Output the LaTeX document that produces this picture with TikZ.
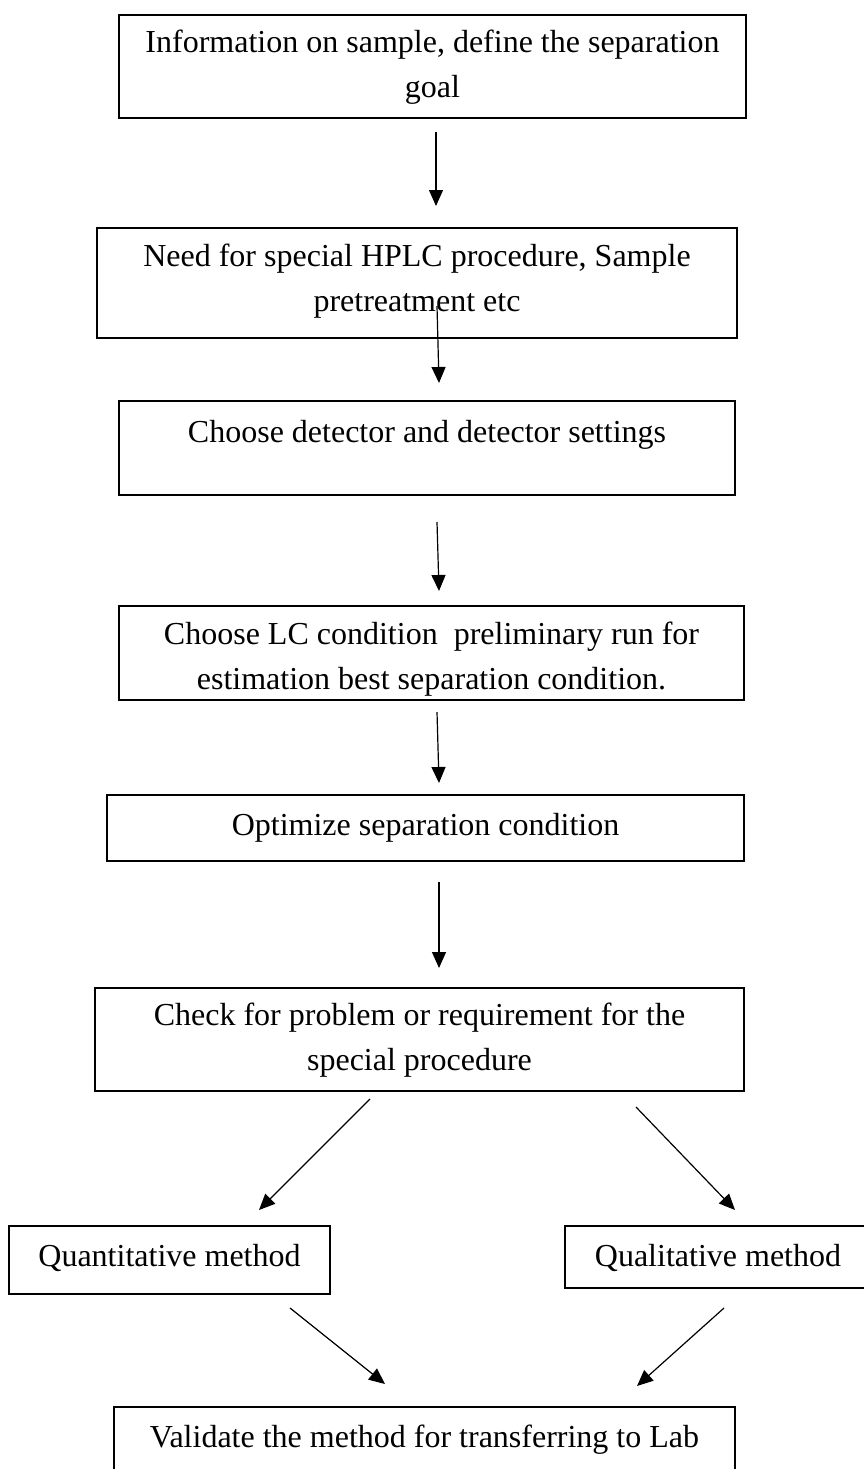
\documentclass[tikz,border=0pt]{standalone}
\usepackage{fontspec}
\setmainfont{Liberation Serif}
\usetikzlibrary{arrows.meta,calc}
\begin{document}
\begin{tikzpicture}[x=1pt,y=-1pt,
  box/.style={draw=black,line width=1.3pt,inner sep=0pt,outer sep=0pt},
  txt/.style={align=center,inner sep=0pt,anchor=base,font={\fontsize{32}{45}\selectfont}},
  arr/.style={line width=1.2pt,-{Triangle[length=16pt,width=14pt]}}]
\fill[white] (0,0) rectangle (863,1469);
\useasboundingbox (0,0) rectangle (863,1469);
% boxes
\node[box,minimum width=627pt,minimum height=103pt] (b1) at (432.5,66.5) {};
\node[box,minimum width=640pt,minimum height=110pt] (b2) at (417,283) {};
\node[box,minimum width=616pt,minimum height=94pt] (b3) at (427,448) {};
\node[box,minimum width=625pt,minimum height=94pt] (b4) at (431.5,653) {};
\node[box,minimum width=637pt,minimum height=66pt] (b5) at (425.5,828) {};
\node[box,minimum width=649pt,minimum height=103pt] (b6) at (419.5,1039.5) {};
\node[box,minimum width=321pt,minimum height=68pt] (b7) at (169.5,1260) {};
\node[box,minimum width=306pt,minimum height=62pt] (b8) at (718,1257) {};
\node[box,minimum width=621pt,minimum height=73pt] (b9) at (424.5,1443.5) {};
% texts (base anchor = baseline of last line)
\node[txt] (t1) at (432.5,98) {Information on sample, define the separation\\goal};
\node[txt] (t2) at (417,311) {Need for special HPLC procedure, Sample\\pretreatment etc};
\node[txt] (t3) at (427,442) {Choose detector and detector settings};
\node[txt] (t4) at (431.5,689) {Choose LC condition\ \ preliminary run for\\estimation best separation condition.};
\node[txt] (t5) at (425.5,835) {Optimize separation condition};
\node[txt] (t6) at (419.5,1070) {Check for problem or requirement for the\\special procedure};
\node[txt] (t7) at (169.5,1266) {Quantitative method};
\node[txt] (t8) at (718,1266) {Qualitative method};
\node[txt] (t9) at (424.5,1447) {Validate the method for transferring to Lab};
% arrows
\draw[arr] ($(b1.south)+(3.5,14)$) -- ($(b2.north)+(19,-22)$);
\draw[arr] ($(b2.south)+(20,-32)$) -- ($(b3.north)+(12,-18)$);
\draw[arr] ($(b3.south)+(10,27)$) -- ($(b4.north)+(7.5,-15)$);
\draw[arr] ($(b4.south)+(5.5,12)$) -- ($(b5.north)+(13.5,-12)$);
\draw[arr] ($(b5.south)+(13.5,21)$) -- ($(b6.north)+(19.5,-20)$);
\draw[arr] ($(b6.south)+(-49.5,8)$) -- ($(b7.north)+(89.5,-16)$);
\draw[arr] ($(b6.south)+(216.5,16)$) -- ($(b8.north)+(17,-16)$);
\draw[arr] ($(b7.south)+(120.5,14)$) -- ($(b9.north)+(-39.5,-23)$);
\draw[arr] ($(b8.south)+(6,20)$) -- ($(b9.north)+(212.5,-21)$);
\end{tikzpicture}
\end{document}
